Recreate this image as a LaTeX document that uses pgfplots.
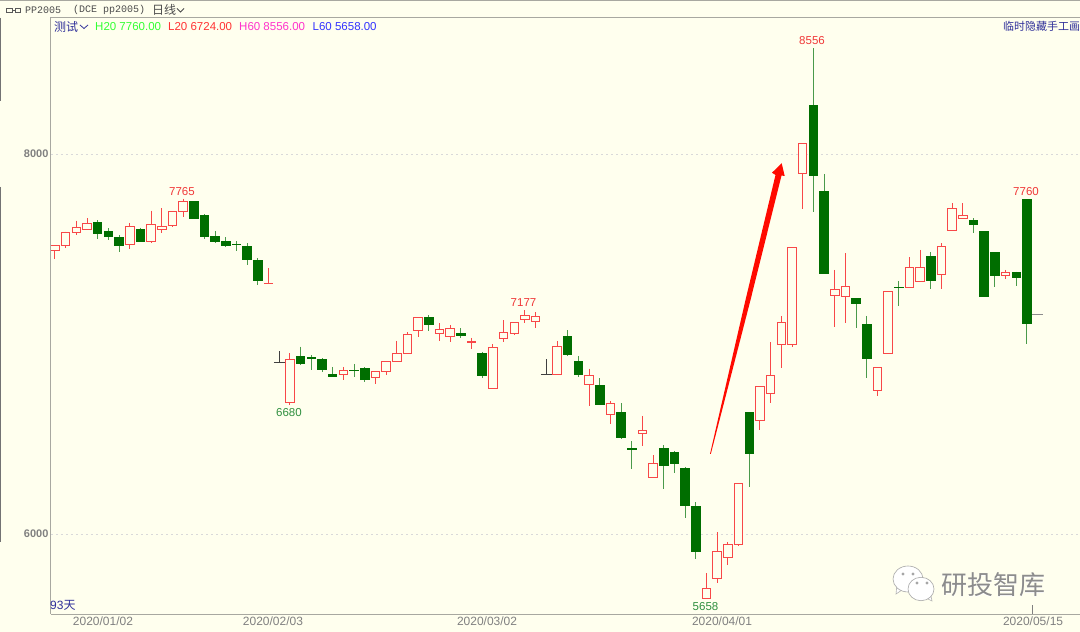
\documentclass[border=0pt]{standalone}
\usepackage{pgfplots}
\pgfplotsset{compat=1.18}
\usepackage{fontspec}
\setmainfont{Liberation Sans}
\newfontfamily\cjk{Noto Sans CJK SC}
\newfontfamily\hdr{Liberation Mono}
\definecolor{bgc}{HTML}{FFFFEE}
\definecolor{upc}{HTML}{F84848}
\definecolor{dnc}{HTML}{006E00}
\definecolor{dnw}{HTML}{4A9A4A}
\definecolor{navy}{HTML}{30309A}
\definecolor{spine}{HTML}{A8A8A0}
\definecolor{tickc}{HTML}{808080}
\definecolor{lowc}{HTML}{2F8F3F}
\definecolor{hic}{HTML}{F03838}
% i, body top, body bottom, high, low
\newcommand\U[5]{%
  \pgfmathsetmacro\xl{#1-0.4}\pgfmathsetmacro\xr{#1+0.4}%
  \addplot[draw=upc,line width=1pt,forget plot] coordinates {(#1,#4)(#1,#2)};
  \addplot[draw=upc,line width=1pt,forget plot] coordinates {(#1,#3)(#1,#5)};
  \addplot[draw=upc,fill=bgc,line width=1pt,forget plot] coordinates {(\xl,#3)(\xr,#3)(\xr,#2)(\xl,#2)} --cycle;
}
\newcommand\D[5]{%
  \pgfmathsetmacro\xl{#1-0.4}\pgfmathsetmacro\xr{#1+0.4}%
  \addplot[draw=dnw,line width=1pt,forget plot] coordinates {(#1,#4)(#1,#2)};
  \addplot[draw=dnw,line width=1pt,forget plot] coordinates {(#1,#3)(#1,#5)};
  \addplot[draw=dnc,fill=dnc,line width=1pt,forget plot] coordinates {(\xl,#3)(\xr,#3)(\xr,#2)(\xl,#2)} --cycle;
}
\newcommand\K[4]{%
  \pgfmathsetmacro\xl{#1-0.5}\pgfmathsetmacro\xr{#1+0.5}%
  \addplot[draw=#4,line width=1pt,forget plot] coordinates {(#1,#3)(#1,#2)};
  \addplot[draw=#4,line width=1pt,forget plot] coordinates {(\xl,#2)(\xr,#2)};
}
\begin{document}
\begin{tikzpicture}[x=1pt,y=1pt]
\path[use as bounding box,fill=bgc] (0,0) rectangle (1080,632);
\begin{axis}[
  at={(51pt,18pt)},anchor=south west,
  scale only axis,width=1029pt,height=596pt,
  xmin=-0.3745,xmax=95.97,ymin=5579,ymax=8716,
  axis line style={draw=none},
  axis x line*=bottom,axis y line*=left,
  ytick={6000,8000},
  yticklabel style={font=\bfseries\fontsize{11}{12}\selectfont,text=tickc,xshift=1pt},
  /pgf/number format/assume math mode=true,
  /pgf/number format/1000 sep={},
  ymajorgrids,
  grid style={dash pattern=on 2pt off 3pt,line width=0.8pt,draw=black!15},
  xtick={4.49,20.41,40.45,62.45,91.57},
  xticklabels={2020/01/02,2020/02/03,2020/03/02,2020/04/01,2020/05/15},
  xticklabel style={font=\fontsize{12}{13}\selectfont,text=tickc,yshift=1pt},
  tick style={draw=none},
]
\U{0}{7518}{7493}{7518}{7449}
\U{1}{7588}{7518}{7591}{7503}
\U{2}{7614}{7588}{7649}{7572}
\U{3}{7635}{7603}{7661}{7603}
\D{4}{7640}{7581}{7651}{7552}
\D{5}{7593}{7565}{7609}{7549}
\D{6}{7561}{7521}{7574}{7486}
\U{7}{7619}{7524}{7638}{7502}
\D{8}{7603}{7542}{7612}{7542}
\U{9}{7630}{7538}{7702}{7530}
\U{10}{7619}{7603}{7714}{7582}
\U{11}{7700}{7624}{7700}{7617}
\U{12}{7749}{7700}{7765}{7670}
\D{13}{7749}{7661}{7749}{7661}
\D{14}{7675}{7565}{7684}{7554}
\D{15}{7568}{7538}{7596}{7533}
\D{16}{7540}{7516}{7561}{7512}
\D{17}{7524}{7523}{7542}{7491}
\D{18}{7514}{7445}{7531}{7417}
\D{19}{7442}{7333}{7451}{7309}
\U{20}{7321}{7317}{7398}{7317}
\K{21}{6905}{6963}{black!75}
\U{22}{6921}{6693}{6951}{6680}
\D{23}{6933}{6895}{6986}{6891}
\D{24}{6928}{6926}{6940}{6863}
\D{25}{6919}{6866}{6924}{6852}
\D{26}{6837}{6830}{6880}{6824}
\U{27}{6858}{6838}{6880}{6810}
\D{28}{6861}{6858}{6895}{6828}
\D{29}{6870}{6814}{6877}{6800}
\U{30}{6854}{6823}{6854}{6789}
\U{31}{6907}{6854}{6910}{6838}
\U{32}{6951}{6909}{7016}{6909}
\U{33}{7052}{6951}{7061}{6951}
\U{34}{7138}{7072}{7138}{7035}
\D{35}{7138}{7105}{7152}{7070}
\U{36}{7077}{7054}{7110}{7017}
\U{37}{7082}{7037}{7098}{7009}
\D{38}{7056}{7044}{7084}{7031}
\U{39}{7012}{7010}{7033}{6975}
\D{40}{6951}{6833}{6959}{6821}
\U{41}{6982}{6765}{6998}{6765}
\U{42}{7063}{7028}{7126}{7009}
\U{43}{7114}{7056}{7114}{7049}
\U{44}{7152}{7131}{7177}{7109}
\U{45}{7145}{7116}{7168}{7086}
\K{46}{6838}{6919}{black!75}
\U{47}{6986}{6840}{7014}{6837}
\D{48}{7038}{6945}{7073}{6938}
\D{49}{6910}{6842}{6937}{6828}
\U{50}{6835}{6789}{6870}{6673}
\D{51}{6784}{6684}{6819}{6680}
\U{52}{6689}{6630}{6700}{6579}
\D{53}{6642}{6507}{6687}{6503}
\D{54}{6449}{6447}{6487}{6344}
\U{55}{6544}{6528}{6622}{6463}
\U{56}{6372}{6298}{6415}{6298}
\D{57}{6451}{6361}{6466}{6238}
\D{58}{6431}{6373}{6437}{6321}
\D{59}{6345}{6149}{6351}{6086}
\D{60}{6147}{5910}{6166}{5866}
\U{61}{5712}{5658}{5793}{5658}
\U{62}{5910}{5766}{6010}{5740}
\U{63}{5945}{5877}{5959}{5837}
\U{64}{6267}{5946}{6267}{5937}
\D{65}{6641}{6423}{6641}{6246}
\U{66}{6779}{6600}{6779}{6546}
\U{67}{6832}{6741}{7009}{6688}
\U{68}{7113}{7000}{7148}{6876}
\U{69}{7509}{7000}{7509}{6986}
\U{70}{8057}{7899}{8057}{7711}
\D{71}{8255}{7885}{8556}{7697}
\D{72}{7802}{7372}{7895}{7372}
\U{73}{7288}{7258}{7390}{7092}
\U{74}{7304}{7251}{7478}{7113}
\D{75}{7241}{7213}{7241}{7086}
\D{76}{7102}{6925}{7148}{6823}
\U{77}{6878}{6753}{6878}{6724}
\U{78}{7274}{6951}{7274}{6951}
\D{79}{7298}{7296}{7332}{7202}
\U{80}{7402}{7298}{7456}{7298}
\U{81}{7404}{7330}{7495}{7330}
\D{82}{7462}{7334}{7483}{7291}
\U{83}{7514}{7367}{7530}{7291}
\U{84}{7712}{7598}{7741}{7598}
\U{85}{7674}{7660}{7741}{7660}
\D{86}{7651}{7628}{7662}{7583}
\D{87}{7591}{7251}{7591}{7251}
\D{88}{7483}{7360}{7483}{7298}
\U{89}{7376}{7360}{7390}{7341}
\D{90}{7374}{7348}{7381}{7307}
\D{91}{7760}{7109}{7760}{7000}
\K{92}{7154}{7154}{black!45}
\end{axis}
% frame
\draw[spine,line width=1pt] (50.5,18)--(50.5,614.5)--(1080,614.5);
\draw[spine,line width=1pt] (50.5,17.5)--(1080,17.5);
\draw[spine,line width=1pt] (0,631.5)--(1080,631.5);
\draw[black!55,line width=1.2pt] (0.6,614)--(0.6,531);
\draw[black!55,line width=1.2pt] (0.6,445)--(0.6,90);
\draw[tickc,line width=0.8pt] (1032,18)--(1032,27);
% high / low labels
\begin{scope}[every node/.style={font=\fontsize{11.5}{12}\selectfont,inner sep=0pt}]
\node[text=hic] at (812,591) {8556};
\node[text=hic] at (182,440.5) {7765};
\node[text=hic] at (523.5,329) {7177};
\node[text=hic] at (1026,440) {7760};
\node[text=lowc] at (289,219) {6680};
\node[text=lowc] at (705.5,25) {5658};
\node[text=navy,anchor=west] at (50,27) {\fontsize{12}{12}\selectfont 93{\cjk 天}};
\node[text=navy,anchor=west] at (54,605.5) {\fontsize{12}{12}\selectfont\cjk 测试};
\draw[navy,line width=0.8pt] (80,607)--(84,603.5)--(88,607);
\node[text={rgb,255:red,51;green,255;blue,51},anchor=west] at (95,605.5) {H20 7760.00};
\node[text={rgb,255:red,255;green,51;blue,51},anchor=west] at (168,605.5) {L20 6724.00};
\node[text={rgb,255:red,255;green,51;blue,204},anchor=west] at (239,605.5) {H60 8556.00};
\node[text={rgb,255:red,51;green,51;blue,255},anchor=west] at (312.5,605.5) {L60 5658.00};
\node[text=navy,anchor=west] at (1003,605.5) {\fontsize{11}{11}\selectfont\cjk 临时隐藏手工画};
\end{scope}
% header
\draw[black!65,line width=0.9pt] (6.5,620)rectangle(12,624) (15,620)rectangle(20.5,624) (12,622)--(15,622);
\node[anchor=west,inner sep=0pt,text=black!70,font=\hdr\fontsize{10}{11}\selectfont] at (25,622) {PP2005};
\node[anchor=west,inner sep=0pt,text=black!70,font=\hdr\fontsize{10}{11}\selectfont] at (73,622) {(DCE pp2005)};
\node[anchor=west,inner sep=0pt,text=black!70,font=\cjk\fontsize{12}{12}\selectfont] at (152,622) {日线};
\draw[black!70,line width=0.8pt] (177,623.5)--(180.5,620)--(184,623.5);
% arrow
\fill[red!92!orange] (710,178)--(745.5,332)--(775.5,457)--(772,459.3)--(781.7,468.7)--(784.7,456)--(781.5,456.5)--(750.5,332)--(710.8,178)--cycle;
% watermark
\begin{scope}
\fill[white,draw=black!30,line width=0.6pt] (896,38)--(897,48)--(905,44)--cycle;
\fill[white,draw=black!35,line width=0.6pt] (908,53) ellipse[x radius=15,y radius=13];
\fill[black!35] (903,58) circle[radius=1.6] (913,58) circle[radius=1.6];
\fill[white,draw=black!30,line width=0.6pt] (932,31)--(930,41)--(922,36)--cycle;
\fill[white,draw=black!35,line width=0.6pt] (921,43) ellipse[x radius=13,y radius=11.7];
\fill[black!35] (917,49) circle[radius=1.6] (927,49) circle[radius=1.6];
\node[inner sep=0pt,anchor=west,text=white,font=\cjk\fontsize{26}{26}\selectfont] at (941.6,46.5) {研投智库};
\node[inner sep=0pt,anchor=west,text=black!45,font=\cjk\fontsize{26}{26}\selectfont] at (941,47) {研投智库};
\end{scope}
\end{tikzpicture}
\end{document}
